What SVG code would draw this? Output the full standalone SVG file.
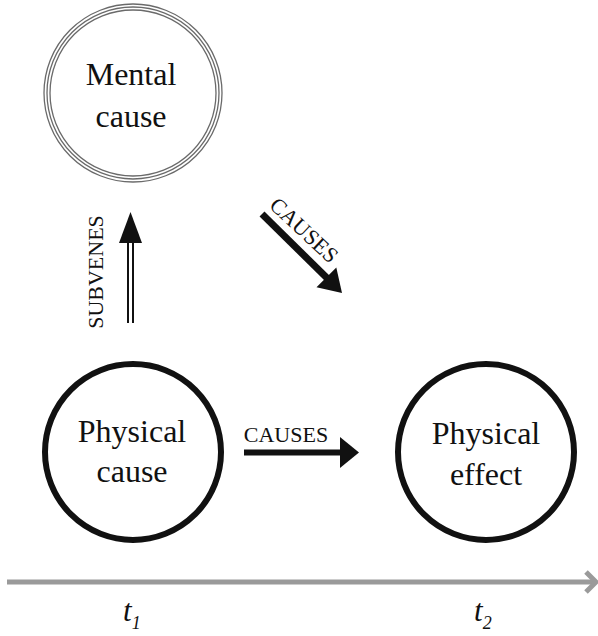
<svg xmlns="http://www.w3.org/2000/svg" width="598" height="636" viewBox="0 0 598 636">
<style>
.lbl{font-family:"Liberation Serif","Times New Roman",serif;fill:#111;text-anchor:middle}
.node{font-size:32px}
.cap{font-size:22px}
.t{font-family:"Liberation Serif","Times New Roman",serif;font-style:italic;fill:#111}
.ring{fill:none;stroke:#6a6a6a;stroke-width:1.3}
.bold{fill:none;stroke:#111;stroke-width:6}
</style>
<rect width="598" height="636" fill="#fff"/>
<g id="mental-cause">
<circle class="ring" cx="133" cy="93" r="89"/>
<circle class="ring" cx="133" cy="93" r="86"/>
<circle class="ring" cx="133" cy="93" r="83"/>
<text class="lbl node" x="131" y="85">Mental</text>
<text class="lbl node" x="131" y="127">cause</text>
</g>
<g id="physical-cause">
<circle class="bold" cx="133" cy="452" r="88"/>
<text class="lbl node" x="132" y="442">Physical</text>
<text class="lbl node" x="132" y="482">cause</text>
</g>
<g id="physical-effect">
<circle class="bold" cx="486" cy="452" r="88"/>
<text class="lbl node" x="486" y="444">Physical</text>
<text class="lbl node" x="486" y="485">effect</text>
</g>
<g id="connectors">
<g id="subvenes">
<line x1="128" y1="242" x2="128" y2="323" stroke="#111" stroke-width="2"/>
<line x1="133" y1="242" x2="133" y2="323" stroke="#111" stroke-width="2"/>
<polygon points="130.5,212 119,243 142,243" fill="#111"/>
<text class="lbl cap" transform="translate(103,272) rotate(-90)" font-size="23">SUBVENES</text>
</g>
<g id="causes-diagonal">
<line x1="262" y1="214" x2="328" y2="279" stroke="#111" stroke-width="7"/>
<polygon points="342,293 316.5,287.3 336.3,267.5" fill="#111"/>
<text class="lbl cap" transform="translate(299,235.5) rotate(43)">CAUSES</text>
</g>
<g id="causes-horizontal">
<line x1="244" y1="452.5" x2="342" y2="452.5" stroke="#111" stroke-width="6"/>
<polygon points="359,452.5 340,437 340,468" fill="#111"/>
<text class="lbl cap" x="286" y="442" font-size="21.5">CAUSES</text>
</g>
<g id="time-axis">
<line x1="7" y1="582" x2="593" y2="582" stroke="#9a9a9a" stroke-width="5"/>
<polyline points="586,572 596,582 586,592" fill="none" stroke="#9a9a9a" stroke-width="5"/>
</g>
</g>
<text class="t" x="123" y="621" font-size="31">t<tspan font-size="18" dy="8">1</tspan></text>
<text class="t" x="474" y="621" font-size="31">t<tspan font-size="18" dy="8">2</tspan></text>
</svg>
